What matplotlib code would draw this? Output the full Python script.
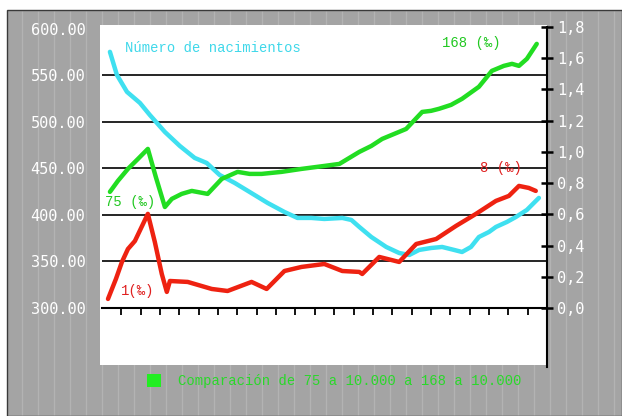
# Births vs. rates chart (old spreadsheet style)

import numpy as np
import matplotlib
matplotlib.use("Agg")
import matplotlib.pyplot as plt
from matplotlib.patches import Rectangle
from matplotlib.lines import Line2D

plt.rcParams['font.family'] = ['Liberation Mono', 'DejaVu Sans Mono']

# --- data (x in category units 0..23) ---
births_x = [0.41, 0.77, 1.29, 1.96, 2.47, 3.25, 4.02, 4.79, 5.41, 6.08, 6.86, 7.63,
            8.56, 9.43, 10.10, 10.82, 11.49, 12.42, 12.89, 13.30, 13.92, 14.69,
            15.36, 15.88, 16.39, 17.01, 17.58, 18.20, 18.61, 19.07, 19.48, 20.00,
            20.36, 20.93, 21.39, 21.96, 22.58]
births = [575.3, 550.5, 532.3, 520.4, 507.5, 489.2, 474.2, 461.3, 455.9, 443.0,
          434.4, 424.7, 412.9, 403.2, 396.8, 396.8, 395.7, 396.8, 394.6, 387.1,
          376.3, 365.6, 359.1, 357.0, 362.4, 364.5, 365.6, 362.4, 360.2, 365.6,
          376.3, 381.7, 387.1, 392.5, 397.8, 405.4, 418.3]

rate75_x = [0.41, 0.82, 1.34, 1.86, 2.37, 2.78, 3.25, 3.61, 4.12, 4.64, 5.46, 6.19,
            7.01, 7.63, 8.25, 9.28, 10.31, 11.49, 12.27, 13.30, 13.92, 14.48,
            15.10, 15.72, 16.55, 17.01, 17.42, 18.04, 18.61, 19.48, 20.15, 20.77,
            21.19, 21.55, 21.96, 22.47]
rate75 = [0.744, 0.814, 0.891, 0.955, 1.019, 0.840, 0.647, 0.699, 0.731, 0.750,
          0.731, 0.827, 0.872, 0.859, 0.859, 0.872, 0.891, 0.910, 0.923, 1.000,
          1.038, 1.083, 1.115, 1.147, 1.256, 1.263, 1.276, 1.301, 1.340, 1.417,
          1.519, 1.551, 1.564, 1.551, 1.596, 1.692]

rate1_x = [0.31, 0.72, 1.03, 1.34, 1.70, 2.37, 2.73, 3.09, 3.35, 3.51, 4.43, 5.67,
           6.49, 7.73, 8.51, 9.43, 10.31, 11.49, 12.42, 13.30, 13.45, 14.33, 15.36,
           16.24, 17.27, 18.30, 19.33, 20.36, 21.03, 21.55, 22.06, 22.42]
rate1 = [0.058, 0.186, 0.295, 0.378, 0.429, 0.603, 0.423, 0.218, 0.103, 0.173,
         0.167, 0.122, 0.109, 0.167, 0.122, 0.237, 0.263, 0.282, 0.237, 0.231,
         0.218, 0.327, 0.295, 0.410, 0.442, 0.526, 0.603, 0.686, 0.718, 0.782,
         0.769, 0.750]

left_ticks = [300, 350, 400, 450, 500, 550, 600]
right_ticks = [0.0, 0.2, 0.4, 0.6, 0.8, 1.0, 1.2, 1.4, 1.6, 1.8]

W, H = 622, 416


def fx(px):
    return px / W


def fy(py):
    return 1 - py / H


fig = plt.figure(figsize=(W / 100, H / 100), dpi=100)
fig.patch.set_facecolor("white")

# grey frame with faint vertical stripes, then the white panel
fig.add_artist(Rectangle((fx(7), fy(416)), fx(622) - fx(7), (416 - 10) / H,
                         transform=fig.transFigure, facecolor="#a4a4a4",
                         edgecolor="#3a3a3a", lw=1, zorder=-3))
for px in range(22, 622, 16):
    fig.add_artist(Line2D([fx(px), fx(px)], [fy(414), fy(12)], color="#b3b3b3",
                          lw=1, transform=fig.transFigure, zorder=-2.5))
fig.add_artist(Rectangle((fx(100), fy(365)), (547 - 100) / W, (365 - 25) / H,
                         transform=fig.transFigure, facecolor="white",
                         edgecolor="none", zorder=-1))

ax = fig.add_axes([fx(102), fy(308), (547 - 102) / W, (308 - 27) / H])
ax.set_facecolor("none")
ax.plot(births_x, births, color="#3fe0f0", lw=3.2, solid_capstyle="round", clip_on=False)
ax.set_xlim(0, 23)
ax.set_ylim(300, 602)
ax.set_yticks(left_ticks)
ax.set_yticklabels([f"{v:.2f}" for v in left_ticks], family="DejaVu Sans Mono")
ax.tick_params(axis="y", length=0, pad=12, labelcolor="white", labelsize=11)
ax.set_xticks(range(1, 23))
ax.tick_params(axis="x", direction="out", length=5, width=1.3, labelbottom=False)
ax.grid(axis="y", color="black", lw=1.2)
gl = ax.get_ygridlines()
gl[0].set_visible(False)
gl[-1].set_visible(False)
for s in ["left", "top", "right"]:
    ax.spines[s].set_visible(False)
ax.spines["bottom"].set_linewidth(1.5)

ax2 = ax.twinx()
ax2.plot(rate75_x, rate75, color="#22dd22", lw=3.2, solid_capstyle="round", clip_on=False)
ax2.plot(rate1_x, rate1, color="#ee2211", lw=3.2, solid_capstyle="round", clip_on=False)
ax2.set_ylim(0, 1.8)
ax2.set_yticks(right_ticks)
ax2.set_yticklabels([f"{v:.1f}".replace(".", ",") for v in right_ticks],
                    family="DejaVu Sans Mono")
ax2.tick_params(axis="y", direction="inout", length=8, width=1.8, pad=3,
                labelcolor="white", labelsize=11)
for s in ["left", "top", "bottom"]:
    ax2.spines[s].set_visible(False)
ax2.spines["right"].set_linewidth(1.5)
fig.add_artist(Line2D([fx(547), fx(547)], [fy(308), fy(367)], color="black",
                      lw=1.5, transform=fig.transFigure))

# series labels
fig.text(fx(125), fy(48), "Número de nacimientos", color="#3fd8ea", fontsize=10, va="center")
fig.text(fx(442), fy(43), "168 (‰)", color="#22c822", fontsize=10, va="center")
fig.text(fx(480), fy(168), "8 (‰)", color="#e02020", fontsize=10, va="center")
fig.text(fx(105), fy(202), "75 (‰)", color="#22c822", fontsize=10, va="center")
fig.text(fx(121), fy(291), "1(‰)", color="#e02020", fontsize=10, va="center")

# legend
fig.add_artist(Rectangle((fx(147), fy(387)), 14 / W, 13 / H, transform=fig.transFigure,
                         facecolor="#22ee22", edgecolor="none"))
fig.text(fx(178), fy(381), "Comparación de 75 a 10.000 a 168 a 10.000",
         color="#2ad82a", fontsize=10, va="center")

fig.savefig("out.png", dpi=100)
